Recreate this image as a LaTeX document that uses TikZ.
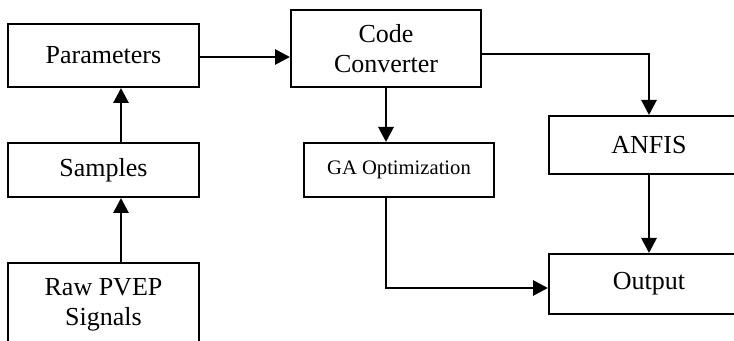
\documentclass[tikz,border=0pt]{standalone}
\usepackage{fontspec}
\setmainfont{Liberation Serif}
\usetikzlibrary{arrows.meta}

\tikzset{
	block/.style={draw, line width=1pt, align=center, font=\fontsize{13}{15}\selectfont},
	link/.style={line width=1.4pt, -{Triangle[length=7.5pt,width=7.5pt]}}
}

\begin{document}
\begin{tikzpicture}[x=0.5pt, y=-0.5pt]
	\useasboundingbox (0, 0) rectangle (734, 341);
	\clip (0, 0) rectangle (734, 341);
	% left column
	\node[block, minimum width=95.5pt, minimum height=31.5pt] (params) at (103.5, 55.5) {Parameters};
	\node[block, minimum width=95.5pt, minimum height=27pt] (samples) at (103.5, 170) {Samples};
	\node[block, minimum width=95.5pt, minimum height=42pt] (raw) at (103.5, 305) {Raw PVEP\\Signals};
	% middle
	\node[block, minimum width=95pt, minimum height=38.5pt] (code) at (386, 48.5) {Code\\Converter};
	\node[block, minimum width=95pt, minimum height=27pt, font=\fontsize{10.3}{12}\selectfont] (ga) at (399, 170) {GA Optimization};
	% right column
	\node[block, minimum width=100pt, minimum height=29pt] (anfis) at (649, 145) {ANFIS};
	\node[block, minimum width=100pt, minimum height=30pt] (output) at (649, 284) {Output};

	\draw[link] ([xshift=8.75pt]raw.north) -- ([xshift=8.75pt]raw.north |- samples.south);
	\draw[link] ([xshift=8.75pt]samples.north) -- ([xshift=8.75pt]samples.north |- params.south);
	\draw[link] ([yshift=-0.75pt]params.east) -- ([yshift=-0.75pt]params.east -| code.west);
	\draw[link] (code.south) -- (code.south |- ga.north);
	\draw[link] ([yshift=-2.75pt]code.east) -| (anfis.north);
	\draw[link] (anfis.south) -- (output.north);
	\draw[link] (code.south |- ga.south) |- ([yshift=-2pt]output.west);
\end{tikzpicture}
\end{document}
